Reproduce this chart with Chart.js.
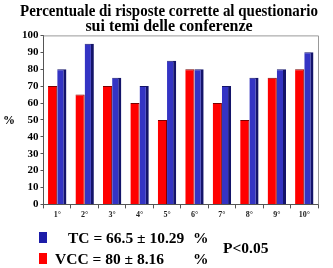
<!DOCTYPE html>
<html><head><meta charset="utf-8">
<script src="https://cdn.jsdelivr.net/npm/chart.js@4"></script>
<style>
html,body{margin:0;padding:0;background:#fff;}
#wrap{position:absolute;left:0;top:0;width:333px;height:268px;}
.t{position:absolute;font-family:'Liberation Serif','Times New Roman',serif;font-weight:bold;font-size:15.5px;line-height:15px;white-space:nowrap;color:#000;}
.sq{position:absolute;width:8px;height:11px;}
</style></head>
<body>
<div id="wrap"><canvas id="c"></canvas></div>
<div class="t" style="left:3px;top:113px;font-size:12px;">%</div>
<div class="sq" style="left:39px;top:232px;background:#1c1ca8;"></div>
<div class="sq" style="left:39px;top:253px;background:#ff0000;"></div>
<div class="t" style="left:68px;top:230px;">TC = 66.5 ± 10.29</div>
<div class="t" style="left:193px;top:230px;">%</div>
<div class="t" style="left:55px;top:251px;">VCC = 80 ± 8.16</div>
<div class="t" style="left:193px;top:251px;">%</div>
<div class="t" style="left:223px;top:240px;">P&lt;0.05</div>
<script>
const titleLines = ['Percentuale di risposte corrette al questionario', 'sui temi delle conferenze'];
const categories = ['1°','2°','3°','4°','5°','6°','7°','8°','9°','10°'];
const vccValues = [70,65,70,60,50,80,60,50,75,80];
const tcValues  = [80,95,75,70,85,80,70,75,80,90];
const yTicks = [0,10,20,30,40,50,60,70,80,90,100];

const frame = {
  id:'frame',
  afterDraw(chart){
    const {ctx, chartArea:a} = chart;
    ctx.save();
    ctx.strokeStyle='#999';
    ctx.lineWidth=1;
    ctx.beginPath();
    ctx.moveTo(a.left, a.top+0.5);
    ctx.lineTo(a.right+0.5, a.top+0.5);
    ctx.lineTo(a.right+0.5, a.bottom);
    ctx.stroke();
    ctx.restore();
  }
};

new Chart(document.getElementById('c'), {
  type:'bar',
  data:{
    labels:categories,
    datasets:[
      {label:'VCC', data:vccValues, backgroundColor:'#ff0000', borderColor:'#7a0000',
       borderWidth:{top:1,right:1,left:0,bottom:0}, borderSkipped:false},
      {label:'TC', data:tcValues, backgroundColor:'#3434c4', borderColor:'#14146a',
       borderWidth:{top:1,right:3,left:0,bottom:0}, borderSkipped:false}
    ]
  },
  options:{
    responsive:true, maintainAspectRatio:false, animation:false,
    categoryPercentage:0.67, barPercentage:1,
    layout:{padding:{left:20,right:15,top:0,bottom:46}},
    plugins:{
      legend:{display:false}, tooltip:{enabled:false},
      title:{display:true, text:titleLines, color:'#000',
        font:{family:"'Liberation Serif'", size:16, weight:'bold', lineHeight:0.95},
        padding:{top:4,bottom:1}}
    },
    scales:{
      x:{
        grid:{display:true, offset:true, drawOnChartArea:false, tickLength:4, color:'#555'},
        border:{color:'#555'},
        ticks:{color:'#222', font:{family:"'Liberation Serif'", size:8, weight:'bold'}, padding:2}
      },
      y:{
        min:0, max:100,
        afterBuildTicks(s){ s.ticks = yTicks.map(v=>({value:v})); },
        grid:{display:true, drawOnChartArea:false, tickLength:3, color:'#555'},
        border:{color:'#555'},
        ticks:{color:'#000', font:{family:"'Liberation Serif'", size:11, weight:'bold'}, padding:2}
      }
    }
  },
  plugins:[frame]
});
</script>
</body></html>
